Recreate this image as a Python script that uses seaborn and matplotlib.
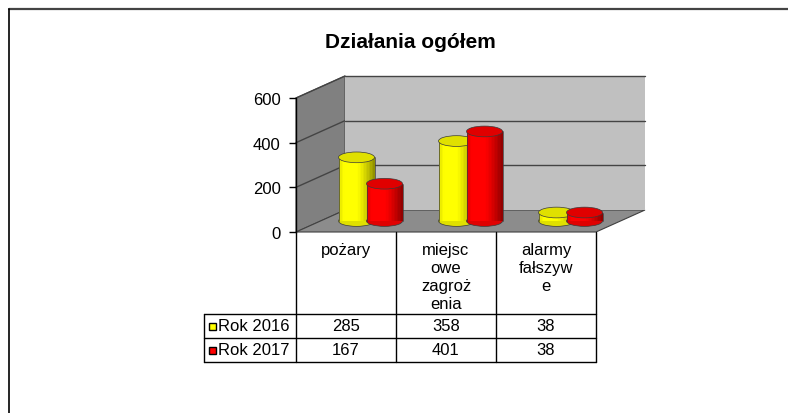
import numpy as np
import pandas as pd
import seaborn as sns
import matplotlib
matplotlib.use("Agg")
import matplotlib.pyplot as plt
from matplotlib.transforms import ScaledTranslation, blended_transform_factory, IdentityTransform
from matplotlib.patches import Polygon, Ellipse, Rectangle
from matplotlib.lines import Line2D
from matplotlib.colors import to_rgb

# ---------------- data ----------------
title = "Działania ogółem"
categories = ["pożary", "miejscowe zagrożenia", "alarmy fałszywe"]
category_labels = ["pożary", "miejsc\nowe\nzagroż\nenia", "alarmy\nfałszyw\ne"]
series = ["Rok 2016", "Rok 2017"]
values_2016 = [285, 358, 38]
values_2017 = [167, 401, 38]
y_ticks = [0, 200, 400, 600]
colors = ["#FFFF00", "#FF0000"]

df = pd.DataFrame({
    "category": categories * 2,
    "series": [series[0]] * 3 + [series[1]] * 3,
    "value": values_2016 + values_2017,
})

# ---------------- figure ----------------
sns.set_theme(style="white")
plt.rcParams["font.family"] = ["Liberation Sans", "DejaVu Sans"]

W, H = 788, 414
fig = plt.figure(figsize=(W / 100, H / 100), dpi=100)
fig.patch.set_facecolor("white")


def fx(x):
    return x / W


def fy(y):
    return (H - y) / H


# front plane of plot area: x 296..596, y 233 (0) .. 99 (600)
ax = fig.add_axes([fx(296), fy(233), 300 / W, 134 / H])
ax.set_zorder(1)
ax.set_xlim(-0.5, 2.5)
ax.set_ylim(0, 600)
ax.patch.set_visible(False)
for s in ["top", "right", "bottom"]:
    ax.spines[s].set_visible(False)
ax.spines["left"].set_color("black")
ax.spines["left"].set_linewidth(1.0)
ax.spines["left"].set_zorder(6)

DX, DY = 49, 22  # depth offset in pixels
full_off = ax.transData + ScaledTranslation(DX / 100, DY / 100, fig.dpi_scale_trans)
half_off = ax.transData + ScaledTranslation(DX / 200, DY / 200, fig.dpi_scale_trans)


def disp(x, y, depth=0.0):
    p = ax.transData.transform((x, y))
    return (p[0] + DX * depth, p[1] + DY * depth)


x0, x1 = -0.5, 2.5
ymax = 600

# back wall
ax.add_patch(Rectangle((x0, 0), x1 - x0, ymax, transform=full_off,
                       facecolor="#C0C0C0", edgecolor="none", zorder=0.5, clip_on=False))
# side wall
side = [disp(x0, 0), disp(x0, ymax), disp(x0, ymax, 1), disp(x0, 0, 1)]
fig.add_artist(Polygon(side, closed=True, transform=IdentityTransform(),
                       facecolor="#808080", edgecolor="#505050", linewidth=0.8, zorder=0.6))
# floor
floor = [disp(x0, 0), disp(x1, 0), disp(x1, 0, 1), disp(x0, 0, 1)]
fig.add_artist(Polygon(floor, closed=True, transform=IdentityTransform(),
                       facecolor="#8C8C8C", edgecolor="#404040", linewidth=0.8, zorder=0.7))

# gridlines on side wall
for t in y_ticks[1:]:
    a, b = disp(x0, t), disp(x0, t, 1)
    fig.add_artist(Line2D([a[0], b[0]], [a[1], b[1]], transform=IdentityTransform(),
                          color="#444444", lw=1.0, zorder=0.8))

# ---------------- bars ----------------
sns.barplot(data=df, x="category", y="value", hue="series", order=categories,
            hue_order=series, palette=colors, width=0.56, saturation=1,
            ax=ax, legend=False, edgecolor="none", linewidth=0)
ax.set_xlim(-0.5, 2.5)
ax.set_ylim(0, 600)
ax.set_xlabel("")
ax.set_ylabel("")
ax.set_xticks([])
ax.set_yticks(y_ticks)
ax.set_yticklabels([str(t) for t in y_ticks])
ax.tick_params(axis="y", left=True, length=5, width=1, color="black", pad=6,
               labelsize=12, labelcolor="black", direction="out")

# gridlines on back wall
for t in y_ticks[1:]:
    ax.plot([x0, x1], [t, t], transform=full_off, color="#444444", lw=1.0,
            zorder=0.9, clip_on=False)

BW = 0.36
ELL_H = 48  # data units (~11 px)


def shade(t):
    f = 1.0
    if t > 0.5:
        f -= 0.45 * ((t - 0.5) / 0.5) ** 1.3
    if t < 0.15:
        f -= 0.12 * (0.15 - t) / 0.15
    return f


for si, cont in enumerate(ax.containers):
    base = np.array(to_rgb(colors[si]))
    for bar in cont:
        cx = bar.get_x() + bar.get_width() / 2
        h = bar.get_height()
        bar.set_x(cx - BW / 2)
        bar.set_width(BW)
        bar.set_transform(half_off)
        bar.set_clip_on(False)
        z = 3 + si
        bar.set_zorder(z)
        left = cx - BW / 2
        # bottom ellipse
        ax.add_patch(Ellipse((cx, 0), BW, ELL_H, transform=half_off,
                             facecolor=base * 0.88, edgecolor="#3a3a3a", lw=0.5,
                             zorder=z - 0.05, clip_on=False))
        # cylinder shading strips
        n = 24
        for k in range(n):
            t = (k + 0.5) / n
            c = np.clip(base * shade(t), 0, 1)
            ax.add_patch(Rectangle((left + k * BW / n, 0), BW / n * 1.08, h,
                                   transform=half_off, facecolor=c, edgecolor="none",
                                   lw=0, zorder=z + 0.01, clip_on=False))
        # side outlines
        for xe in (left, left + BW):
            ax.plot([xe, xe], [0, h], transform=half_off, color="#3a3a3a", lw=0.5,
                    zorder=z + 0.02, clip_on=False)
        # top ellipse
        ax.add_patch(Ellipse((cx, h), BW, ELL_H, transform=half_off,
                             facecolor=base * 0.88, edgecolor="#3a3a3a", lw=0.5,
                             zorder=z + 0.03, clip_on=False))

# ---------------- data table ----------------
tb = blended_transform_factory(ax.transData, fig.transFigure)
line_kw = dict(color="black", lw=1.0, zorder=3)
col_x = [296, 396, 496, 596]
for xp in col_x:
    fig.add_artist(Line2D([fx(xp), fx(xp)], [fy(233), fy(363)], **line_kw))
for yp in (315, 339, 363):
    fig.add_artist(Line2D([fx(204), fx(596)], [fy(yp), fy(yp)], **line_kw))
fig.add_artist(Line2D([fx(204), fx(204)], [fy(315), fy(363)], **line_kw))

for i, lab in enumerate(category_labels):
    fig.text(i, fy(243.5), lab, transform=tb, ha="center", va="top",
             fontsize=12, color="black", linespacing=1.24)

row_y = [327, 351]
for si, vals in enumerate([values_2016, values_2017]):
    for i, v in enumerate(vals):
        fig.text(i, fy(row_y[si]), str(v), transform=tb, ha="center", va="center",
                 fontsize=12, color="black")
    fig.add_artist(Rectangle((fx(209), fy(row_y[si] + 3.5)), 6.5 / W, 7 / H,
                             transform=fig.transFigure, facecolor=colors[si],
                             edgecolor="black", lw=1.0))
    fig.text(fx(218), fy(row_y[si]), series[si], ha="left", va="center",
             fontsize=12, color="black")

# ---------------- title & border ----------------
fig.text(fx(410), fy(42), title, ha="center", va="center", fontsize=15,
         fontweight="bold", color="black")
fig.add_artist(Line2D([fx(9), fx(788)], [fy(10), fy(10)], color="#444444", lw=1.6))
fig.add_artist(Line2D([fx(9), fx(9)], [fy(10), fy(414)], color="black", lw=1.2))

fig.savefig("out.png", dpi=100)
